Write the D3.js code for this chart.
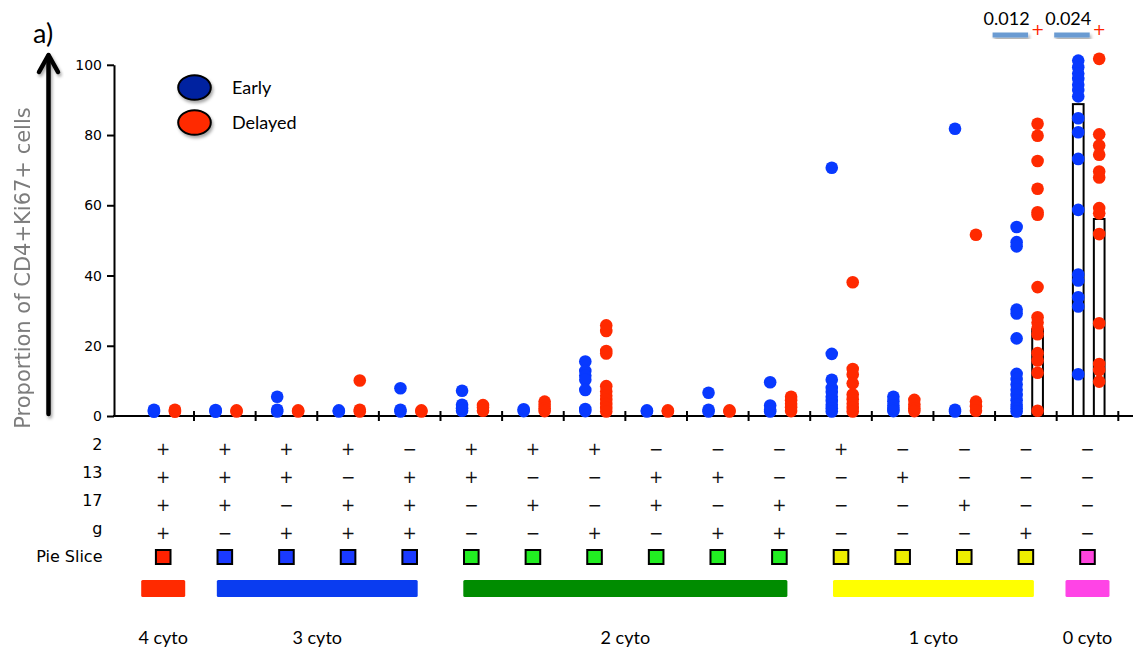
<!DOCTYPE html>
<html>
<head>
<meta charset="utf-8">
<script src="https://cdn.jsdelivr.net/npm/d3@7"></script>
<style>
  body { margin: 0; background: #fff; }
  svg { display: block; }
</style>
</head>
<body>
<svg id="chart" width="1133" height="650"></svg>
<script>
// cytokine combination of each column (IL-2, IL-13, IL-17, IFN-g)
const il2  = ['+','+','+','+','-','+','+','+','-','-','-','+','-','-','-','-'];
const il13 = ['+','+','+','-','+','+','-','-','+','+','-','-','+','-','-','-'];
const il17 = ['+','+','-','+','+','-','+','-','+','-','+','-','-','+','-','-'];
const ifng = ['+','-','+','+','+','-','-','+','-','+','+','-','-','-','+','-'];

// which "n cyto" class each column belongs to
const cytoClass = [0,1,1,1,1,2,2,2,2,2,2,3,3,3,3,4];
const cytoLabels = ['4 cyto', '3 cyto', '2 cyto', '1 cyto', '0 cyto'];

// % CD4+Ki67+ per column
const earlyValues = [
  [1.2, 1.5, 1.8],
  [1.2, 1.5, 1.7],
  [5.5, 1.8, 1.3],
  [1.3, 1.6],
  [7.9, 1.8, 1.3],
  [7.2, 3.2, 2.2, 1.5],
  [1.9, 1.4],
  [15.5, 12.8, 11.5, 10.3, 7.4, 2, 1.4],
  [1.6, 1.3],
  [6.6, 1.8, 1.3],
  [9.6, 3, 1.8, 1.3],
  [70.7, 17.7, 10.3, 8, 6.8, 5.5, 4.3, 3.2, 2.2, 1.3],
  [5.5, 4.2, 3, 2, 1.4],
  [81.8, 1.8, 1.3],
  [53.8, 49.5, 48.3, 30.3, 29.2, 22.1, 12, 10.5, 9, 7.5, 6, 4.5, 3.2, 2.2, 1.3],
  [101.2, 99.3, 97.5, 96, 94.3, 92.8, 91, 84.8, 80.8, 73.2, 58.7, 40.3, 38.6, 33.8, 31.2, 11.9]
];
const delayedValues = [
  [1.2, 1.5, 1.8],
  [1.3, 1.6],
  [1.3, 1.6],
  [10.1, 1.8, 1.3],
  [1.3, 1.6],
  [3.1, 2.4, 1.5],
  [4.1, 3.2, 2.2, 1.4],
  [25.8, 24.2, 18.5, 17.8, 8.5, 7, 5.8, 4.6, 3.4, 2.3, 1.3],
  [1.3, 1.6],
  [1.3, 1.6],
  [5.5, 4.5, 3.5, 2.5, 1.4],
  [38.1, 13.4, 11.8, 9.3, 6.1, 4.8, 3.5, 2.3, 1.3],
  [4.6, 3.3, 2.2, 1.4],
  [51.6, 4.1, 2.8, 1.5],
  [83.2, 79.8, 72.6, 64.7, 58, 57.3, 36.7, 28.1, 26.6, 24.9, 23.3, 17.9, 15.8, 12.3, 1.5],
  [101.7, 80.2, 77, 74.4, 69.6, 67.9, 59.2, 57.7, 51.8, 26.4, 14.8, 13.1, 9.8]
];

// summary bars (only where they show above the dots)
const earlyBars   = [null,null,null,null,null,null,null,null,null,null,null,null,null,null,null,88.8];
const delayedBars = [null,null,null,null,null,null,null,null,null,null,null,null,null,null,24.7,56.1];

// p values (early vs delayed)
const pColumns = [14, 15];
const pValues = ['0.012', '0.024'];

const yTicks = [0, 20, 40, 60, 80, 100];

// colours
const earlyColor = '#0839ff';
const delayedColor = '#ff2a00';
const sliceColors = ['#ff2200', '#1a3aff', '#22ee22', '#eeee00', '#ff44dd'];
const classBarColors = ['#ff2a00', '#0a3cf0', '#008c00', '#ffff00', '#ff44e6'];

const svg = d3.select('#chart');

const defs = svg.append('defs');
defs.append('filter')
  .attr('id', 'shadow')
  .attr('x', '-30%').attr('y', '-30%').attr('width', '160%').attr('height', '160%')
  .append('feDropShadow')
  .attr('dx', 1.5).attr('dy', 2.5).attr('stdDeviation', 1.6)
  .attr('flood-color', '#000').attr('flood-opacity', 0.35);
defs.append('filter')
  .attr('id', 'soft')
  .append('feGaussianBlur')
  .attr('stdDeviation', 0.5);

// scales
const y = d3.scaleLinear().domain([0, 100]).range([416, 64.8]);
const x = d3.scaleBand().domain(d3.range(il2.length)).range([132.4, 1118.3]);
const sub = d3.scaleOrdinal().domain(['early', 'delayed']).range([0.35, 0.69]);
const colX = (i, s) => x(i) + x.bandwidth() * sub(s);
const centerX = i => x(i) + x.bandwidth() / 2;

// y axis
const yAxis = svg.append('g')
  .attr('transform', 'translate(114,0)')
  .call(d3.axisLeft(y).tickValues(yTicks).tickSize(7).tickPadding(5).tickSizeOuter(0));
yAxis.selectAll('path, line').attr('stroke', '#000').attr('stroke-width', 2);
yAxis.selectAll('text')
  .style('font', '14px "DejaVu Sans"')
  .attr('fill', '#000');

// x axis: baseline and a tick between each column pair
svg.append('line')
  .attr('x1', 113).attr('x2', 1133)
  .attr('y1', y(0)).attr('y2', y(0))
  .attr('stroke', '#000').attr('stroke-width', 2);
svg.append('g').selectAll('line')
  .data(x.domain())
  .join('line')
  .attr('x1', d => x(d) + x.bandwidth()).attr('x2', d => x(d) + x.bandwidth())
  .attr('y1', y(0) - 5).attr('y2', y(0) + 5)
  .attr('stroke', '#000').attr('stroke-width', 2);

// summary bars
const barW = 10.7;
const bars = [];
earlyBars.forEach((v, i) => { if (v !== null) bars.push({ i, s: 'early', v }); });
delayedBars.forEach((v, i) => { if (v !== null) bars.push({ i, s: 'delayed', v }); });
svg.append('g').selectAll('rect')
  .data(bars)
  .join('rect')
  .attr('x', d => colX(d.i, d.s) - barW / 2)
  .attr('width', barW)
  .attr('y', d => y(d.v))
  .attr('height', d => y(0) - y(d.v))
  .attr('fill', '#fff')
  .attr('stroke', '#000')
  .attr('stroke-width', 2);

// dots
const dots = [];
earlyValues.forEach((vals, i) => vals.forEach(v => dots.push({ i, s: 'early', v })));
delayedValues.forEach((vals, i) => vals.forEach(v => dots.push({ i, s: 'delayed', v })));
svg.append('g').selectAll('circle')
  .data(dots)
  .join('circle')
  .attr('cx', d => colX(d.i, d.s))
  .attr('cy', d => y(d.v))
  .attr('r', 6.3)
  .attr('fill', d => d.s === 'early' ? earlyColor : delayedColor);

// p values
const pGroup = svg.append('g');
pColumns.forEach((c, k) => {
  const dx = colX(c, 'delayed');
  pGroup.append('rect')
    .attr('x', dx - 45).attr('y', 32.5)
    .attr('width', 35.5).attr('height', 5)
    .attr('fill', '#6a9bd2')
    .attr('filter', 'url(#shadow)');
  pGroup.append('text')
    .attr('x', dx - 31).attr('y', 25)
    .attr('text-anchor', 'middle')
    .style('font', '18px Lato')
    .text(pValues[k]);
  pGroup.append('text')
    .attr('x', dx).attr('y', 35)
    .attr('text-anchor', 'middle')
    .style('font', '16px "DejaVu Sans"')
    .attr('fill', '#ff2200')
    .text('+');
});

// legend
const legend = svg.append('g');
[{ label: 'Early', fill: '#0020a0' }, { label: 'Delayed', fill: '#ff2a00' }].forEach((d, k) => {
  legend.append('ellipse')
    .attr('cx', 194.5).attr('cy', 87.5 + k * 35)
    .attr('rx', 16.3).attr('ry', 12.3)
    .attr('fill', d.fill)
    .attr('stroke', '#000').attr('stroke-width', 2)
    .attr('filter', 'url(#shadow)');
  legend.append('text')
    .attr('x', 232).attr('y', 93.5 + k * 35)
    .style('font', '18px Lato')
    .text(d.label);
});

// panel letter and y title with arrow
svg.append('text')
  .attr('x', 33).attr('y', 43)
  .style('font', '27px Lato')
  .text('a)');

const arrow = svg.append('g')
  .attr('filter', 'url(#shadow)')
  .attr('fill', 'none').attr('stroke', '#000')
  .attr('stroke-width', 4.5).attr('stroke-linecap', 'round').attr('stroke-linejoin', 'round');
arrow.append('line')
  .attr('x1', 48.5).attr('x2', 48.5).attr('y1', 414).attr('y2', 56);
arrow.append('polyline')
  .attr('points', '39,72 48.5,55 58,72');

svg.append('text')
  .attr('transform', 'translate(30,268) rotate(-90)')
  .attr('text-anchor', 'middle')
  .attr('fill', '#7c7c7c')
  .attr('filter', 'url(#soft)')
  .style('font', '21px "DejaVu Sans"')
  .text('Proportion of CD4+Ki67+ cells');

// marker table
const tableRows = [
  { label: '2', values: il2 },
  { label: '13', values: il13 },
  { label: '17', values: il17 },
  { label: 'g', values: ifng }
];
const table = svg.append('g');
tableRows.forEach((row, r) => {
  const base = 450 + r * 28;
  table.append('text')
    .attr('x', 102.5).attr('y', base)
    .attr('text-anchor', 'end')
    .style('font', '16px "DejaVu Sans"')
    .text(row.label);
  table.append('g').selectAll('text')
    .data(row.values)
    .join('text')
    .attr('x', (d, i) => centerX(i))
    .attr('y', base + 5)
    .attr('text-anchor', 'middle')
    .style('font', '17px "DejaVu Sans"')
    .attr('fill', '#111')
    .text(d => d === '+' ? '+' : '\u2212');
});
table.append('text')
  .attr('x', 102.5).attr('y', 562)
  .attr('text-anchor', 'end')
  .style('font', '16px "DejaVu Sans"')
  .text('Pie Slice');
table.append('g').selectAll('rect')
  .data(cytoClass)
  .join('rect')
  .attr('x', (d, i) => centerX(i) - 7.3)
  .attr('y', 550)
  .attr('width', 14.6).attr('height', 14)
  .attr('fill', d => sliceColors[d])
  .attr('stroke', '#000').attr('stroke-width', 2);

// class bars and labels
const classes = cytoLabels.map((label, c) => {
  const cols = cytoClass.map((d, i) => d === c ? i : -1).filter(i => i >= 0);
  const pad = cols.length === 1 ? 22 : 8;
  return {
    label, c,
    x0: centerX(cols[0]) - pad,
    x1: centerX(cols[cols.length - 1]) + pad
  };
});
const classG = svg.append('g');
classG.selectAll('rect')
  .data(classes)
  .join('rect')
  .attr('x', d => d.x0).attr('width', d => d.x1 - d.x0)
  .attr('y', 580).attr('height', 17)
  .attr('rx', 1.5)
  .attr('fill', d => classBarColors[d.c]);
classG.selectAll('text')
  .data(classes)
  .join('text')
  .attr('x', d => (d.x0 + d.x1) / 2)
  .attr('y', 644)
  .attr('text-anchor', 'middle')
  .style('font', '18px Lato')
  .text(d => d.label);
</script>
</body>
</html>
